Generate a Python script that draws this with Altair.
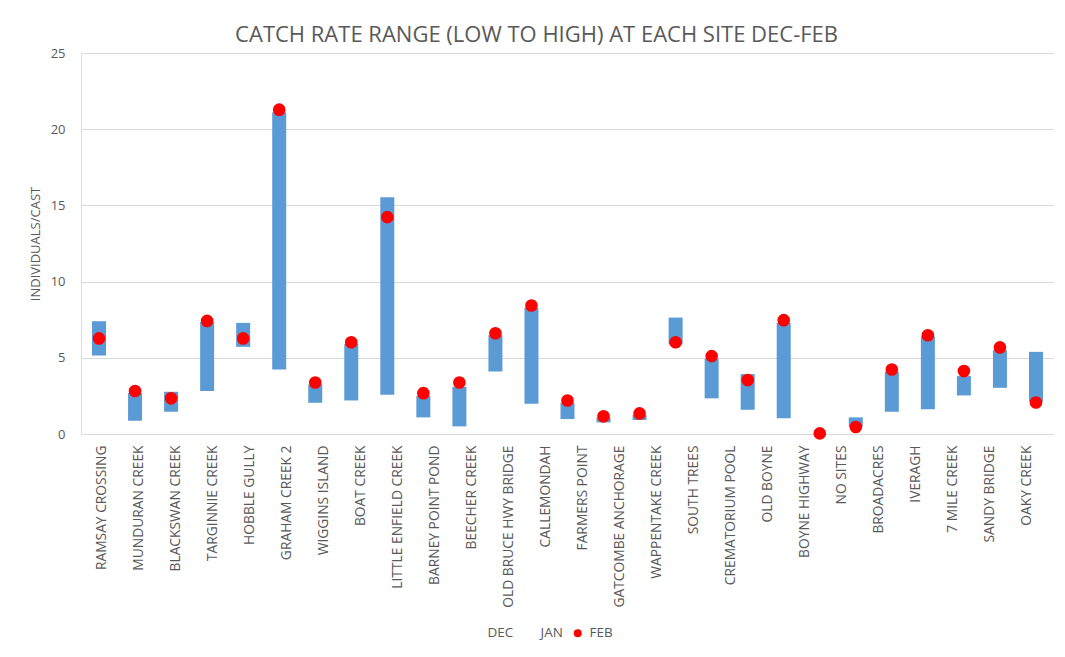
import altair as alt
import pandas as pd

sites = [
    "RAMSAY CROSSING", "MUNDURAN CREEK", "BLACKSWAN CREEK", "TARGINNIE CREEK",
    "HOBBLE GULLY", "GRAHAM CREEK 2", "WIGGINS ISLAND", "BOAT CREEK",
    "LITTLE ENFIELD CREEK", "BARNEY POINT POND", "BEECHER CREEK",
    "OLD BRUCE HWY BRIDGE", "CALLEMONDAH", "FARMERS POINT", "GATCOMBE ANCHORAGE",
    "WAPPENTAKE CREEK", "SOUTH TREES", "CREMATORIUM  POOL", "OLD BOYNE",
    "BOYNE HIGHWAY", "NO SITES", "BROADACRES", "IVERAGH", "7 MILE CREEK",
    "SANDY BRIDGE", "OAKY CREEK",
]

# 27 plotted points (the source chart draws one more point than it has labels)
point_no = list(range(1, 28))
dec = [7.40, 2.70, 2.77, 7.35, 7.29, 21.11, 3.25, 5.90, 15.54, 2.49, 3.10, 6.48, 8.27,
       2.05, 1.09, 1.24, 7.64, 4.96, 3.93, 7.29, 0.00, 1.09, 4.08, 6.41, 3.80, 5.50, 5.39]
jan = [5.15, 0.87, 1.46, 2.82, 5.72, 4.23, 2.05, 2.20, 2.58, 1.09, 0.50, 4.10, 1.99,
       0.98, 0.76, 0.92, 5.89, 2.34, 1.59, 1.03, 0.00, 0.48, 1.46, 1.62, 2.53, 3.03, 2.12]
feb = [6.27, 2.82, 2.34, 7.42, 6.27, 21.28, 3.38, 6.02, 14.23, 2.68, 3.38, 6.61, 8.43,
       2.20, 1.16, 1.35, 6.02, 5.11, 3.54, 7.47, 0.04, 0.46, 4.23, 6.48, 4.13, 5.68, 2.07]

series_names = ["DEC", "JAN", "FEB"]

df = pd.DataFrame({"point": point_no, "dec": dec, "jan": jan, "feb": feb,
                   "series": ["FEB"] * len(point_no)})
df_sites = pd.DataFrame({"site": sites})

FONT = "Open Sans"
GREY = "#595959"

xpts = alt.X("point:O", axis=None,
             scale=alt.Scale(type="band", paddingInner=0, paddingOuter=0))
yscale = alt.Scale(domain=[0, 25], nice=False)

yaxis = alt.Axis(values=[0, 5, 10, 15, 20, 25], grid=True, gridColor="#d9d9d9",
                 domain=False, ticks=False, labelColor=GREY, labelFontSize=13,
                 labelFont=FONT, labelPadding=16, title="INDIVIDUALS/CAST",
                 titleColor=GREY, titleFont=FONT, titleFontSize=13,
                 titleFontWeight="normal", titlePadding=8)

bars = alt.Chart(df).mark_bar(color="#5b9bd5", size=14).encode(
    x=xpts,
    y=alt.Y("dec:Q", scale=yscale, axis=yaxis),
    y2="jan:Q",
)

dots = alt.Chart(df).mark_circle(size=160, opacity=1).encode(
    x=xpts,
    y=alt.Y("feb:Q", scale=yscale),
    color=alt.Color("series:N",
                    scale=alt.Scale(domain=series_names,
                                    range=["rgba(0,0,0,0)", "rgba(0,0,0,0)", "#ff0000"]),
                    legend=alt.Legend(title=None, orient="none", direction="horizontal",
                                      legendX=388, legendY=573, symbolType="circle",
                                      symbolSize=64, labelFont=FONT, labelFontSize=13.5,
                                      labelColor=GREY, labelOffset=5, columnPadding=8)),
)

labels = alt.Chart(df_sites).mark_point(opacity=0, size=1).encode(
    x=alt.X("site:N", sort=None,
            scale=alt.Scale(type="point", padding=0.65, align=0.42),
            axis=alt.Axis(title=None, labelAngle=-90, ticks=False, tickSize=0,
                          domain=False, grid=False, labelPadding=11,
                          labelFont=FONT, labelFontSize=13.8, labelColor=GREY,
                          labelLimit=300)),
    y=alt.value(0),
)

chart = alt.layer(alt.layer(bars, dots), labels).resolve_scale(x="independent").properties(
    width=973, height=381,
    title=alt.TitleParams("CATCH RATE RANGE (LOW TO HIGH) AT EACH SITE DEC-FEB",
                          font=FONT, fontSize=22, fontWeight="normal", color=GREY,
                          anchor="middle", frame="bounds", offset=0, dx=-5),
    padding={"left": 21, "top": 16, "right": 0, "bottom": 0},
).configure_view(stroke=None).configure(background="white")

chart.save("out.html", embed_options={"renderer": "svg", "actions": False})
